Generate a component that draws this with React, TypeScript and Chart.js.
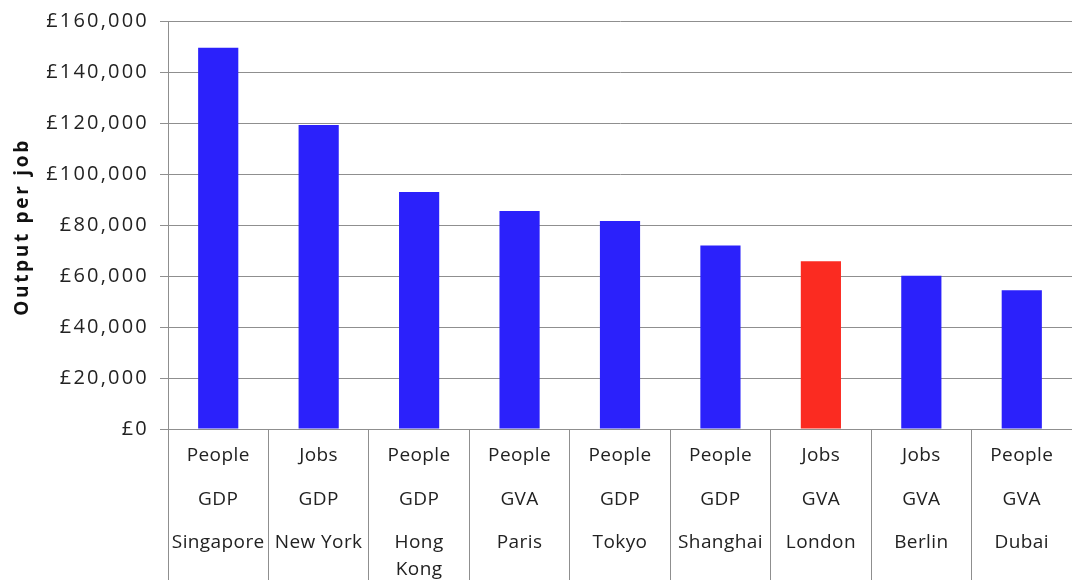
import React, { useEffect, useRef } from "react";
import { Chart, registerables } from "chart.js";

Chart.register(...registerables);

const cityLines = [["Singapore"], ["New York"], ["Hong", "Kong"], ["Paris"], ["Tokyo"], ["Shanghai"], ["London"], ["Berlin"], ["Dubai"]];
const cities = ["Singapore", "New York", "Hong Kong", "Paris", "Tokyo", "Shanghai", "London", "Berlin", "Dubai"];
const basis = ["People", "Jobs", "People", "People", "People", "People", "Jobs", "Jobs", "People"];
const measure = ["GDP", "GDP", "GDP", "GVA", "GDP", "GDP", "GVA", "GVA", "GVA"];
const outputPerJob = [149500, 119200, 92900, 85500, 81600, 72000, 65800, 60100, 54400];
const highlightCity = "London";
const yTitle = "Output per job";
const yMax = 160000;
const yStep = 20000;

const BLUE = "#2b21fb";
const RED = "#fb2b21";
const GRID = "#8f8f8f";
const TEXT = "#222222";
const FONT = "'Open Sans', 'DejaVu Sans', sans-serif";

const categoryLabelsPlugin = {
  id: "categoryLabels",
  beforeDraw(chart: any) {
    (chart.ctx as any).letterSpacing = "2.2px";
  },
  afterDraw(chart: any) {
    const ctx = chart.ctx as any;
    const xs = chart.scales.x;
    const { top, bottom } = chart.chartArea;
    ctx.save();
    ctx.fillStyle = TEXT;
    ctx.font = `19px ${FONT}`;
    ctx.letterSpacing = "0.4px";
    ctx.textAlign = "center";
    ctx.textBaseline = "middle";
    cities.forEach((_, i) => {
      const x = xs.getPixelForValue(i);
      ctx.fillText(basis[i], x, bottom + 27);
      ctx.fillText(measure[i], x, bottom + 71);
      cityLines[i].forEach((p, k) => ctx.fillText(p, x, bottom + 114 + k * 27));
    });
    // rotated y-axis title
    ctx.font = `bold 19px ${FONT}`;
    ctx.letterSpacing = "2.7px";
    ctx.fillStyle = "#111";
    ctx.translate(23, (top + bottom) / 2 + 2);
    ctx.rotate(-Math.PI / 2);
    ctx.fillText(yTitle, 0, 0);
    ctx.restore();
    ctx.letterSpacing = "0px";
  },
};

export default function App() {
  const ref = useRef<HTMLCanvasElement>(null);
  useEffect(() => {
    if (!ref.current) return;
    const chart = new Chart(ref.current, {
      type: "bar",
      data: {
        labels: cities,
        datasets: [
          {
            data: outputPerJob,
            backgroundColor: cities.map((c) => (c === highlightCity ? RED : BLUE)),
            barPercentage: 0.4,
            categoryPercentage: 1,
            borderWidth: 0,
          },
        ],
      },
      options: {
        responsive: false,
        animation: false,
        layout: { padding: { top: 21, left: 0, right: 0, bottom: 0 } },
        plugins: { legend: { display: false }, tooltip: { enabled: false } },
        scales: {
          x: {
            grid: {
              offset: true,
              drawOnChartArea: false,
              drawTicks: true,
              tickLength: 151,
              color: GRID,
              lineWidth: 1,
            },
            border: { color: GRID },
            ticks: { display: false },
          },
          y: {
            min: 0,
            max: yMax,
            afterFit: (s: any) => {
              s.width = 168;
              s.paddingTop = 0;
              s.paddingBottom = 0;
            },
            ticks: {
              stepSize: yStep,
              color: TEXT,
              font: { family: FONT, size: 20 },
              padding: 11,
              callback: (v: any) => "£" + Number(v).toLocaleString("en-GB"),
            },
            grid: { color: GRID, tickLength: 8, lineWidth: 1 },
            border: { color: GRID },
            title: { display: false },
          },
        },
      },
      plugins: [categoryLabelsPlugin],
    });
    return () => chart.destroy();
  }, []);
  return (
    <canvas
      ref={ref}
      width={1072}
      height={580}
      style={{ position: "fixed", left: 0, top: 0, display: "block" }}
    />
  );
}
